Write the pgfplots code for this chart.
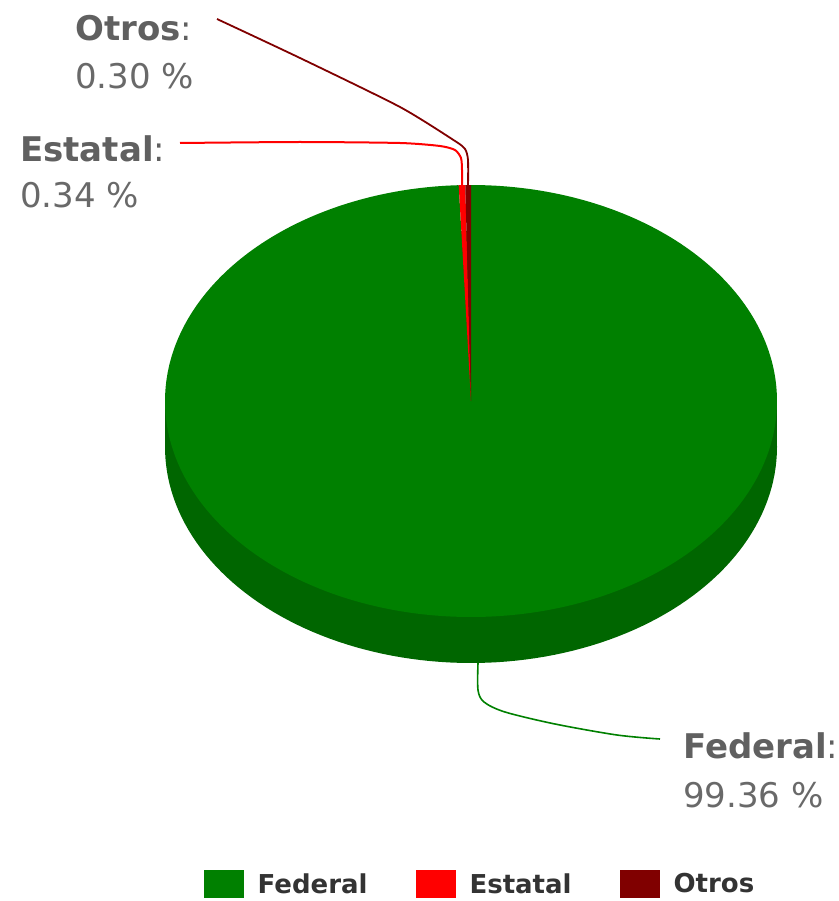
\documentclass[border=0pt]{standalone}
\usepackage{pgfplots}
\pgfplotsset{compat=1.18}
\usepackage{fontspec}
\setmainfont{DejaVu Sans}
\definecolor{fed}{RGB}{0,128,0}
\definecolor{fedside}{RGB}{0,102,0}
\definecolor{est}{RGB}{255,0,0}
\definecolor{otr}{RGB}{128,0,0}
\definecolor{lbl}{RGB}{96,96,96}
\definecolor{val}{RGB}{105,105,105}
\definecolor{leg}{RGB}{51,51,51}
\begin{document}
\begin{tikzpicture}
% data (percent)
\pgfmathsetmacro\vF{99.36}
\pgfmathsetmacro\vE{0.34}
\pgfmathsetmacro\vO{0.30}
% slice angles, clockwise from the top
\pgfmathsetmacro\aA{90}
\pgfmathsetmacro\aB{90-3.6*\vF}
\pgfmathsetmacro\aC{\aB-3.6*\vE}
\pgfmathsetmacro\aD{\aC-3.6*\vO}
\begin{axis}[
  width=834pt, height=901pt, scale only axis,
  xmin=0, xmax=834, ymin=0, ymax=901, y dir=reverse,
  hide axis, clip=false,
  legend columns=3,
  legend style={at={(axis cs:480,884)}, anchor=center, draw=none, fill=none,
    text=leg, font=\fontsize{26}{30}\selectfont\bfseries,
    /tikz/every odd column/.append style={column sep=12pt},
    /tikz/every even column/.append style={column sep=46pt}},
  legend image code/.code={\path[#1] (0pt,-14pt) rectangle (40pt,14pt);},
]
\path (rel axis cs:0,0) rectangle (rel axis cs:1,1);
% side of the pie
\addplot[draw=none, fill=fedside, domain=0:360, samples=200, forget plot]
  ({471+306*cos(x)},{447-216*sin(x)}) -- cycle;
\addplot[draw=none, fill=fedside, forget plot]
  coordinates {(165,401) (777,401) (777,447) (165,447)} -- cycle;
% top faces
\addplot[draw=none, fill=fed, domain=\aB:\aA, samples=300, forget plot]
  ({471+306*cos(x)},{401-216*sin(x)}) -- (axis cs:471,401) -- cycle;
\addplot[draw=none, fill=est, domain=\aC:\aB, samples=3, forget plot]
  ({471+306*cos(x)},{401-216*sin(x)}) -- (axis cs:471,401) -- cycle;
\addplot[draw=none, fill=otr, domain=\aD:\aC, samples=3, forget plot]
  ({471+306*cos(x)},{401-216*sin(x)}) -- (axis cs:471,401) -- cycle;
% connectors
\addplot[fed, line width=1.6pt, smooth, tension=0.5, forget plot] coordinates
  {(478,663) (478,690) (484,702) (505,712) (555,724) (617,735) (660,739)};
\addplot[est, line width=2pt, smooth, tension=0.4, forget plot] coordinates
  {(180,143) (300,142) (400,143) (440,146) (455,150) (461,158) (462,170) (462,190)};
\addplot[otr, line width=1.8pt, smooth, tension=0.4, forget plot] coordinates
  {(217,19) (300,58) (400,107) (455,141) (465,149) (468,160) (468,190)};
% data labels
\node[anchor=base west, inner sep=0, text=lbl, font=\fontsize{34}{40}\selectfont] at (axis cs:75,41) {\textbf{Otros}:};
\node[anchor=base west, inner sep=0, text=val, font=\fontsize{34}{40}\selectfont] at (axis cs:75,89) {0.30 \%};
\node[anchor=base west, inner sep=0, text=lbl, font=\fontsize{34}{40}\selectfont] at (axis cs:20,162) {\textbf{Estatal}:};
\node[anchor=base west, inner sep=0, text=val, font=\fontsize{34}{40}\selectfont] at (axis cs:20,208) {0.34 \%};
\node[anchor=base west, inner sep=0, text=lbl, font=\fontsize{34}{40}\selectfont] at (axis cs:683,758) {\textbf{Federal}:};
\node[anchor=base west, inner sep=0, text=val, font=\fontsize{34}{40}\selectfont] at (axis cs:683,807) {99.36 \%};
% legend
\addlegendimage{draw=none, fill=fed}
\addlegendentry{Federal}
\addlegendimage{draw=none, fill=est}
\addlegendentry{Estatal}
\addlegendimage{draw=none, fill=otr}
\addlegendentry{Otros}
\end{axis}
\end{tikzpicture}
\end{document}
